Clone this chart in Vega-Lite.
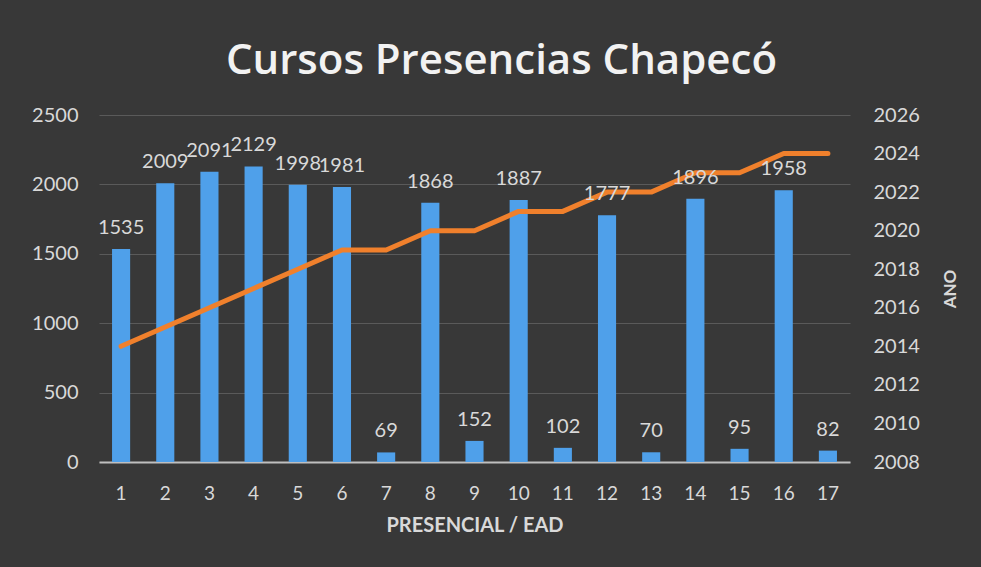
{
  "$schema": "https://vega.github.io/schema/vega-lite/v6.json",
  "autosize": "none",
  "width": 751,
  "height": 347,
  "padding": {"left": 99, "top": 115, "right": 131, "bottom": 105},
  "background": "#383838",
  "config": {
    "view": {"stroke": null},
    "font": "Lato"
  },
  "title": {
    "text": "Cursos Presencias Chapecó",
    "fontSize": 42,
    "font": "Open Sans",
    "fontWeight": 600,
    "color": "#f2f2f2",
    "offset": 22,
    "dx": 27,
    "anchor": "middle"
  },
  "data": {
    "values": [
      {"n": 1, "cursos": 1535, "ano": 2014},
      {"n": 2, "cursos": 2009, "ano": 2015},
      {"n": 3, "cursos": 2091, "ano": 2016},
      {"n": 4, "cursos": 2129, "ano": 2017},
      {"n": 5, "cursos": 1998, "ano": 2018},
      {"n": 6, "cursos": 1981, "ano": 2019},
      {"n": 7, "cursos": 69, "ano": 2019},
      {"n": 8, "cursos": 1868, "ano": 2020},
      {"n": 9, "cursos": 152, "ano": 2020},
      {"n": 10, "cursos": 1887, "ano": 2021},
      {"n": 11, "cursos": 102, "ano": 2021},
      {"n": 12, "cursos": 1777, "ano": 2022},
      {"n": 13, "cursos": 70, "ano": 2022},
      {"n": 14, "cursos": 1896, "ano": 2023},
      {"n": 15, "cursos": 95, "ano": 2023},
      {"n": 16, "cursos": 1958, "ano": 2024},
      {"n": 17, "cursos": 82, "ano": 2024}
    ]
  },
  "encoding": {
    "x": {
      "field": "n",
      "type": "ordinal",
      "scale": {"paddingInner": 0.59, "paddingOuter": 0.295},
      "axis": {
        "title": "PRESENCIAL / EAD",
        "titleFontSize": 20,
        "titleFontWeight": "bold",
        "titleColor": "#d9d9d9",
        "titlePadding": 12,
        "labelAngle": 0,
        "labelFontSize": 19,
        "labelColor": "#d9d9d9",
        "labelPadding": 22,
        "ticks": false,
        "domainColor": "#bfbfbf",
        "domainWidth": 2
      }
    }
  },
  "layer": [
    {
      "mark": {"type": "bar", "color": "#4fa0ea"},
      "encoding": {
        "y": {
          "field": "cursos",
          "type": "quantitative",
          "scale": {"domain": [0, 2500]},
          "axis": {
            "title": null,
            "format": "d",
            "values": [0, 500, 1000, 1500, 2000, 2500],
            "labelFontSize": 20,
            "labelColor": "#d9d9d9",
            "labelPadding": 21,
            "ticks": false,
            "domain": false,
            "grid": true,
            "gridColor": "#5a5a5a",
            "gridWidth": 1
          }
        }
      }
    },
    {
      "mark": {"type": "line", "color": "#f0802c", "strokeWidth": 5, "strokeCap": "round", "strokeJoin": "round"},
      "encoding": {
        "y": {
          "field": "ano",
          "type": "quantitative",
          "scale": {"domain": [2008, 2026], "zero": false},
          "axis": {
            "orient": "right",
            "title": "ANO",
            "format": "d",
            "titleAngle": -90,
            "titleFontSize": 17,
            "titleFontWeight": "bold",
            "titleColor": "#d9d9d9",
            "titlePadding": 40,
            "values": [2008, 2010, 2012, 2014, 2016, 2018, 2020, 2022, 2024, 2026],
            "labelFontSize": 20,
            "labelColor": "#d9d9d9",
            "labelPadding": 23,
            "ticks": false,
            "domain": false,
            "grid": false
          }
        }
      }
    },
    {
      "mark": {"type": "text", "color": "#d9d9d9", "fontSize": 20, "baseline": "bottom", "dy": -11},
      "encoding": {
        "y": {"field": "cursos", "type": "quantitative", "scale": {"domain": [0, 2500]}, "axis": null},
        "text": {"field": "cursos", "type": "quantitative", "format": "d"}
      }
    }
  ],
  "resolve": {"scale": {"y": "independent"}}
}
